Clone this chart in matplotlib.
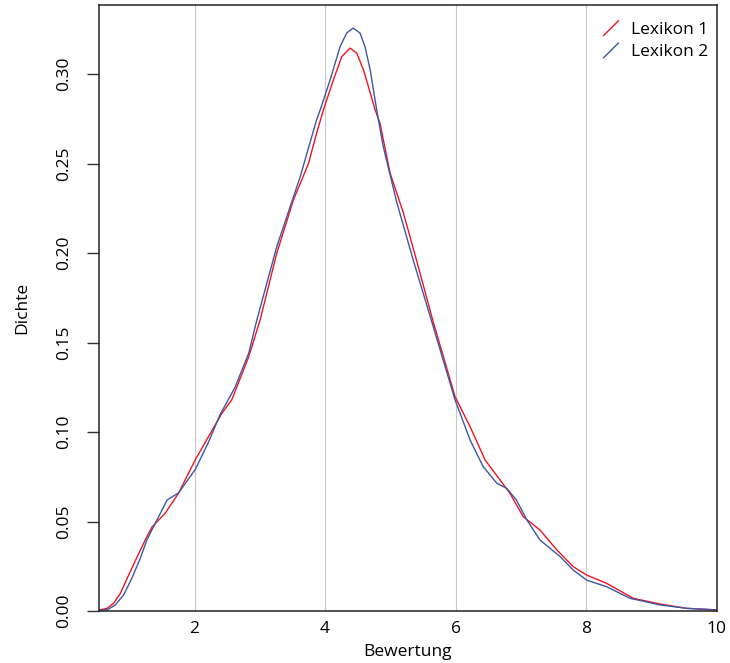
import matplotlib
matplotlib.use("Agg")
import matplotlib.pyplot as plt
from matplotlib.lines import Line2D
from matplotlib.legend_handler import HandlerBase

plt.rcParams['font.family'] = ['Open Sans', 'DejaVu Sans']

# Dichte-Kurven
lex1_x = [0.53, 0.55, 0.66, 0.76, 0.865, 0.99, 1.118, 1.245, 1.35, 1.55, 1.755, 2.01,
          2.27, 2.42, 2.57, 2.83, 3.005, 3.26, 3.515, 3.745, 3.87, 3.974, 4.127, 4.256,
          4.383, 4.485, 4.587, 4.663, 4.766, 4.84, 4.995, 5.2, 5.40, 5.66, 5.99, 6.22,
          6.45, 6.68, 6.83, 7.035, 7.29, 7.55, 7.80, 8.005, 8.31, 8.72, 9.13, 9.54, 10.0]
lex1_y = [0.0, 0.0006, 0.0015, 0.0043, 0.0099, 0.020, 0.030, 0.0397, 0.047, 0.0546, 0.0658, 0.0844,
          0.101, 0.1105, 0.118, 0.142, 0.1627, 0.200, 0.2297, 0.250, 0.267, 0.280, 0.2968, 0.3098,
          0.3145, 0.3117, 0.3024, 0.293, 0.280, 0.2726, 0.2447, 0.2223, 0.196, 0.161, 0.1198, 0.103,
          0.0844, 0.0732, 0.0658, 0.0527, 0.0453, 0.0341, 0.0248, 0.0201, 0.0155, 0.0071, 0.0039, 0.0015, 0.0006]

lex2_x = [0.53, 0.60, 0.684, 0.786, 0.913, 1.04, 1.17, 1.27, 1.37, 1.58, 1.755, 2.01,
          2.21, 2.39, 2.62, 2.83, 2.955, 3.26, 3.62, 3.87, 3.925, 4.077, 4.23, 4.33,
          4.43, 4.535, 4.61, 4.69, 4.79, 4.89, 5.10, 5.35, 5.61, 5.99, 6.22, 6.42,
          6.63, 6.78, 6.93, 7.09, 7.29, 7.60, 7.80, 8.005, 8.31, 8.67, 9.13, 9.54, 10.0]
lex2_y = [0.0, 0.0005, 0.0011, 0.0034, 0.0089, 0.0183, 0.0295, 0.0397, 0.047, 0.062, 0.066, 0.079,
          0.094, 0.1096, 0.125, 0.144, 0.1627, 0.2036, 0.2428, 0.2745, 0.280, 0.2968, 0.3154, 0.3229,
          0.3257, 0.3229, 0.3154, 0.3024, 0.280, 0.2595, 0.228, 0.196, 0.1645, 0.118, 0.0956, 0.0807,
          0.0714, 0.0686, 0.062, 0.0509, 0.0397, 0.0304, 0.0229, 0.0173, 0.0136, 0.0071, 0.0034, 0.0015, 0.0006]

labels = ["Lexikon 1", "Lexikon 2"]
x_ticks = [2, 4, 6, 8, 10]
y_ticks = [0.00, 0.05, 0.10, 0.15, 0.20, 0.25, 0.30]

RED = "#f0141e"
BLUE = "#3a58a8"


class DiagHandler(HandlerBase):
    # kurzer schraeger Strich wie in R-Legenden
    def create_artists(self, legend, orig_handle, xdescent, ydescent,
                       width, height, fontsize, trans):
        ln = Line2D([0, width], [-0.15 * height, 1.05 * height],
                    color=orig_handle.get_color(), lw=orig_handle.get_linewidth())
        ln.set_transform(trans)
        return [ln]


fig = plt.figure(figsize=(7.3, 6.63), dpi=100)
ax = fig.add_axes([0.135, 0.0784, 0.847, 0.9141])

for xv in x_ticks[:-1]:
    ax.axvline(xv, color="#c8c8c8", lw=0.8, zorder=0)

l1, = ax.plot(lex1_x, lex1_y, color=RED, lw=1.0)
l2, = ax.plot(lex2_x, lex2_y, color=BLUE, lw=1.0)

ax.set_xlim(0.53, 10)
ax.set_ylim(0, 0.3386)
ax.set_xticks(x_ticks)
ax.set_yticks(y_ticks)
ax.set_yticklabels([f"{v:.2f}" for v in y_ticks], rotation=90, va="center")

ax.tick_params(axis="x", length=0, pad=7.5, labelsize=12.5)
ax.tick_params(axis="y", length=9, width=1.0, pad=10, labelsize=12.5, color="#333333")

for s in ax.spines.values():
    s.set_linewidth(1.1)
    s.set_color("#222222")

ax.set_xlabel("Bewertung", fontsize=12.5, labelpad=5)
ax.set_ylabel("Dichte", fontsize=12.5, labelpad=19)

ax.legend([l1, l2], labels, loc="upper right", bbox_to_anchor=(1.012, 1.0),
          frameon=False, fontsize=12.5,
          handler_map={Line2D: DiagHandler()}, handlelength=0.85, handletextpad=0.7,
          labelspacing=0.35, borderaxespad=0.55)

fig.savefig("out.png", dpi=100)
